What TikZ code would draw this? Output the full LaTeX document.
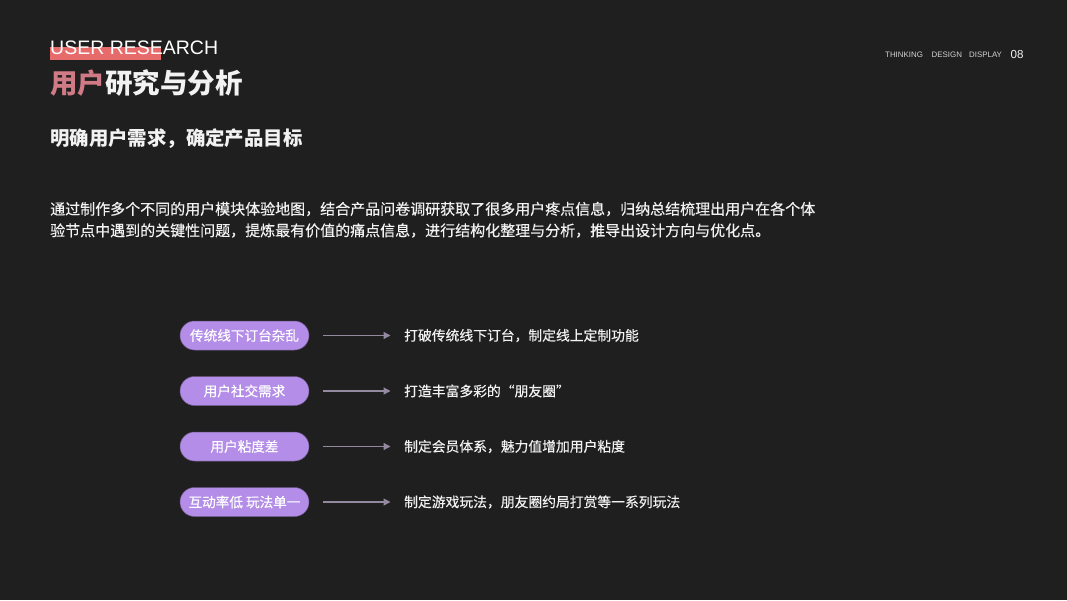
\documentclass[tikz,border=0pt]{standalone}
\usepackage{fontspec}
\setmainfont{Liberation Sans}
\newfontfamily\cjk{Noto Sans CJK SC}
\newfontfamily\cjkm[FakeBold=0.3]{Noto Sans CJK SC}
\usetikzlibrary{arrows.meta}
\definecolor{bg}{HTML}{1F1F1F}
\definecolor{redbar}{HTML}{E86B6B}
\definecolor{pinktxt}{HTML}{D07A86}
\definecolor{pill}{HTML}{B38DE8}
\definecolor{pilledge}{HTML}{6E5A88}
\definecolor{arrowc}{HTML}{938AA0}
\definecolor{softw}{HTML}{F2F2F2}
\definecolor{smallg}{HTML}{D2D2D2}
\tikzset{
  pillbox/.style={fill=pill, draw=pilledge, line width=0.5pt, rounded corners=14.5pt, minimum width=129pt, minimum height=29pt, inner sep=0pt, text=white, font=\cjkm\fontsize{13.6}{14}\selectfont},
  restxt/.style={anchor=west, inner sep=0pt, text=softw, font=\cjkm\fontsize{13.8}{14}\selectfont},
  para/.style={anchor=west, inner sep=0pt, text=softw, font=\cjkm\fontsize{15}{16}\selectfont},
  conn/.style={draw=arrowc, line width=1.3pt, -{Triangle[length=7pt,width=7pt]}, shorten <=14pt, shorten >=13.5pt},
  topsmall/.style={anchor=base west, inner sep=0pt, text=smallg, font=\fontsize{7.9}{8}\selectfont}
}
\begin{document}
\begin{tikzpicture}[x=1pt,y=-1pt]
\fill[bg] (0,0) rectangle (1067,600);
\useasboundingbox (0,0) rectangle (1067,600);
% header
\fill[redbar] (50,47) rectangle (161,60);
\node[anchor=base west, inner sep=0pt, text=white, font=\fontsize{19.5}{20}\selectfont] (en) at (50,54.5) {USER RESEARCH};
\node[anchor=west, inner sep=0pt, font=\cjk\bfseries\fontsize{27.5}{28}\selectfont] (zh) at (50,83) {\textcolor{pinktxt}{用户}\textcolor{softw}{研究与分析}};
\node[topsmall] (t1) at (885,57.3) {THINKING};
\node[topsmall] (t2) at (931.5,57.3) {DESIGN};
\node[topsmall] (t3) at (969,57.3) {DISPLAY};
\node[anchor=base west, inner sep=0pt, text=softw, font=\fontsize{11.6}{12}\selectfont] (pg) at (1010.5,58.3) {08};
% subtitle
\node[anchor=west, inner sep=0pt, text=softw, font=\cjk\bfseries\fontsize{19.4}{20}\selectfont] (sub) at (50,139) {明确用户需求，确定产品目标};
% paragraph
\node[para] (l1) at (50,209) {通过制作多个不同的用户模块体验地图，结合产品问卷调研获取了很多用户疼点信息，归纳总结梳理出用户在各个体};
\node[para] (l2) at (50,230.5) {验节点中遇到的关键性问题，提炼最有价值的痛点信息，进行结构化整理与分析，推导出设计方向与优化点。};
% rows
\node[pillbox] (p1) at (244.5,335.5) {传统线下订台杂乱};
\node[pillbox] (p2) at (244.5,391) {用户社交需求};
\node[pillbox] (p3) at (244.5,446.5) {用户粘度差};
\node[pillbox] (p4) at (244.5,502) {互动率低 玩法单一};
\node[restxt] (r1) at (404,335.5) {打破传统线下订台，制定线上定制功能};
\node[restxt] (r2) at (404,391) {打造丰富多彩的“朋友圈”};
\node[restxt] (r3) at (404,446.5) {制定会员体系，魅力值增加用户粘度};
\node[restxt] (r4) at (404,502) {制定游戏玩法，朋友圈约局打赏等一系列玩法};
\draw[conn] (p1) -- (r1);
\draw[conn] (p2) -- (r2);
\draw[conn] (p3) -- (r3);
\draw[conn] (p4) -- (r4);
\end{tikzpicture}
\end{document}
